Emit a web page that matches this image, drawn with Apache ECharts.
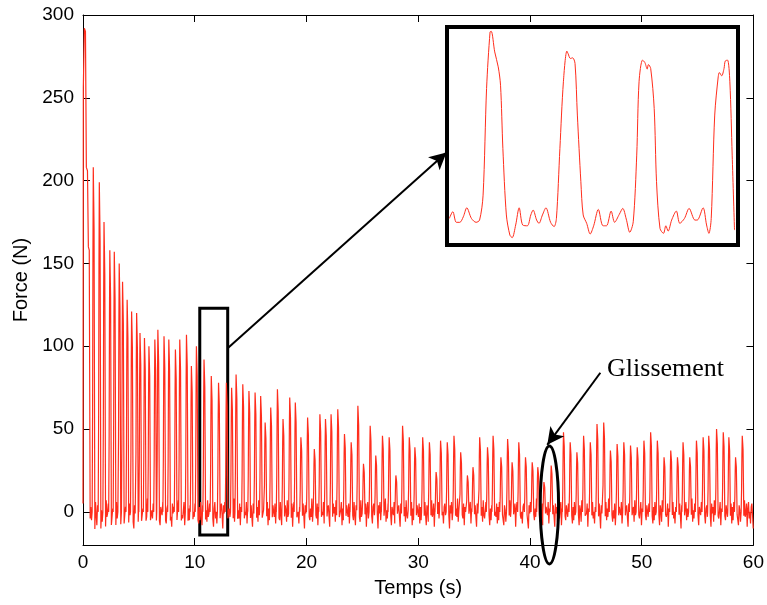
<!DOCTYPE html>
<html>
<head>
<meta charset="utf-8">
<script src="https://cdn.jsdelivr.net/npm/echarts@6/dist/echarts.min.js"></script>
<style>
  html, body { margin: 0; background: #fff; }
  #chart { width: 767px; height: 605px; }
</style>
</head>
<body>
<div id="chart"></div>
<script>
// Force (N) en fonction du temps (s) : train d'impulsions qui décroît, zoom sur 4 cycles
// et repère du glissement vers 41-42 s.

// début de l'enregistrement (premier appui, t en s / F en N)
const HEAD_T = [0, 0.03, 0.12, 0.22, 0.3, 0.4, 0.48, 0.56, 0.64];
const HEAD_F = [5, 256, 292, 290, 208, 206, 160, 158, -4];

// sommets des impulsions
const SPIKE_T = [
  0.92, 1.46, 1.88, 2.4, 2.8, 3.24, 3.54, 3.95, 4.35, 4.8,
  5.1, 5.5, 5.9, 6.43, 6.7, 7.25, 7.68, 8.27, 8.66, 9.26,
  9.7, 10.15, 10.83, 11.48, 12.13, 12.83, 13.3, 13.7, 14.3, 14.85,
  15.4, 15.9, 16.3, 16.8, 17.4, 17.9, 18.5, 19.0, 19.5, 20.1,
  20.7, 21.2, 21.7, 22.2, 22.8, 23.4, 24.0, 24.6, 25.1, 25.7,
  26.2, 26.8, 27.4, 28.0, 28.6, 29.2, 29.7, 30.4, 31.0, 31.6,
  32.0, 32.6, 33.2, 33.8, 34.4, 34.9, 35.5, 36.2, 36.7, 37.4,
  38.0, 38.4, 39.0, 39.6, 40.2, 40.7, 41.25, 41.9, 43.0, 43.6,
  44.2, 44.8, 45.4, 46.0, 46.6, 47.2, 47.8, 48.4, 49.0, 49.6,
  50.2, 50.8, 51.4, 52.0, 52.6, 53.2, 53.7, 54.3, 54.9, 55.5,
  56.0, 56.7, 57.3, 57.8, 58.4, 59.0
];
const SPIKE_F = [
  208, 199, 175, 158, 157, 150, 139, 128, 121, 120,
  108, 105, 100, 104, 110, 106, 104, 98, 104, 107,
  88, 100, 92, 82, 78, 78, 75, 83, 77, 73,
  72, 70, 54, 63, 74, 56, 69, 66, 45, 57,
  38, 59, 56, 59, 62, 47, 42, 64, 29, 52,
  34, 46, 45, 22, 52, 45, 39, 45, 42, 24,
  43, 42, 46, 36, 22, 27, 45, 39, 46, 33,
  44, 30, 42, 33, 30, 27, 18, 28, 48, 42,
  36, 46, 42, 53, 54, 37, 41, 42, 40, 39,
  43, 48, 43, 33, 37, 33, 42, 33, 43, 45,
  46, 50, 48, 45, 33, 46
];

// forme d'une impulsion relevée dans le zoom (décalage en s, fraction du sommet)
const PULSE_DT = [-0.1, -0.06, -0.03, 0, 0.04, 0.07, 0.1, 0.14];
const PULSE_K = [0, 0.3, 0.75, 1, 0.9, 0.82, 0.45, -0.05];

// ondulation de la ligne de base entre deux appuis (N)
const NOISE = [
  3, -5, 6, -2, -8, 4, 1, -6, 7, -3, -1, 5, -9, 2, 6, -4, 0, -7, 3, 5,
  -2, -10, 4, -1, 6, -5, 2, -3, 8, -6, 1, -4, 5, -8, 3, 0, -2, 6, -7, 2,
  4, -3, -9, 5, -1, 3, -6, 7, -2, -4, 1, 6, -8, 2, -5, 4, 0, -3, 5, -7
];

// courbe du zoom (encadré, 10.45 s - 12.95 s)
const INSET_T = [
  10.47, 10.50, 10.53, 10.56, 10.59, 10.62, 10.66, 10.70, 10.73, 10.76,
  10.79, 10.82, 10.83, 10.86, 10.89, 10.91, 10.93, 10.96, 10.99, 11.01,
  11.04, 11.07, 11.10, 11.14, 11.17, 11.19, 11.22, 11.24, 11.27, 11.30,
  11.34, 11.37, 11.39, 11.42, 11.45, 11.48, 11.49, 11.51, 11.53, 11.55,
  11.57, 11.60, 11.62, 11.65, 11.68, 11.71, 11.75, 11.79, 11.82, 11.86,
  11.89, 11.93, 11.96, 11.99, 12.02, 12.05, 12.08, 12.10, 12.13, 12.15,
  12.17, 12.18, 12.20, 12.23, 12.25, 12.28, 12.31, 12.33, 12.35, 12.38,
  12.42, 12.45, 12.49, 12.53, 12.58, 12.60, 12.65, 12.68, 12.70, 12.72,
  12.75, 12.78, 12.79, 12.81, 12.83, 12.84, 12.86, 12.88, 12.90, 12.92
];
const INSET_F = [
  0.3, 3.6, -1.6, -1.6, 1.1, 5.5, 0.3, -1.6, -0.5, 11.7,
  63.9, 91.6, 91.9, 81.8, 74.5, 65.5, 34.6, 2.0, -7.8, -9.1,
  -2.9, 5.5, -2.9, -3.3, 2.0, 4.4, -0.5, -2.1, 2.0, 5.5,
  -1.6, -3.7, 0.3, 34.6, 67.2, 82.2, 81.0, 78.6, 78.9, 76.1,
  50.9, 18.3, 2.0, -2.1, -7.3, -3.3, 4.7, -3.3, -3.3, 3.9,
  -1.6, 2.3, 5.2, 0, -6.5, -1.3, 31.3, 67.2, 77.8, 76.6,
  73.4, 75.6, 73.7, 54.1, 18.3, -4.6, -7.0, -3.3, -5.9, -0.5,
  3.9, -2.1, 0.3, 5.2, -0.5, -0.5, 5.5, -2.9, -7.0, 0.3,
  50.9, 69.6, 71.7, 70.1, 73.7, 77.3, 77.8, 67.2, 31.3, -5.4
];

const X_TICKS = [0, 10, 20, 30, 40, 50, 60];
const Y_TICKS = [0, 50, 100, 150, 200, 250, 300];

// annotations (coordonnées données)
const ZOOM_BOX = [[10.45, 123], [12.95, -14]];
const ZOOM_ARROW = [[12.97, 99], [32.53, 217]];
const SLIP_ARROW = [[46.3, 84], [41.55, 40.5]];
const SLIP_LABEL = [46.9, 86.3];
const SLIP_ELLIPSE = { t: 41.74, f: 4.2, dt: 0.82, df: 35.6 };

const RED = '#ff2d1c';

// trace principale
const main = HEAD_T.map((t, i) => [t, HEAD_F[i]]);
let last = HEAD_T[HEAD_T.length - 1];
let k = 0;
function fillBase(to) {
  for (let t = last + 0.06; t < to; t += 0.06) {
    main.push([+t.toFixed(3), NOISE[k++ % NOISE.length]]);
  }
}
SPIKE_T.forEach((tp, i) => {
  fillBase(tp + PULSE_DT[0]);
  PULSE_DT.forEach((d, j) => main.push([+(tp + d).toFixed(3), +(PULSE_K[j] * SPIKE_F[i]).toFixed(1)]));
  last = tp + PULSE_DT[PULSE_DT.length - 1];
});
fillBase(60);

const chart = echarts.init(document.getElementById('chart'), null, { renderer: 'canvas' });

const labelFont = { color: '#000', fontSize: 19, fontFamily: '"Liberation Sans", Arial, sans-serif' };
const inTick = { show: true, inside: true, length: 7, lineStyle: { color: '#000', width: 1 } };
const blackLine = { show: true, onZero: false, lineStyle: { color: '#000', width: 1 } };

chart.setOption({
  animation: false,
  backgroundColor: '#fff',
  grid: [
    { left: 83, right: 12, top: 15, bottom: 60 },
    { left: 447, top: 27, width: 291, height: 218, show: true,
      backgroundColor: '#fff', borderColor: '#000', borderWidth: 4 },
  ],
  xAxis: [
    { type: 'value', gridIndex: 0, min: 0, max: 60, interval: 10, position: 'bottom',
      name: 'Temps (s)', nameLocation: 'middle', nameGap: 33,
      nameTextStyle: { ...labelFont, fontSize: 20 },
      axisLine: blackLine, axisTick: inTick, splitLine: { show: false },
      axisLabel: { ...labelFont, margin: 8 } },
    { type: 'value', gridIndex: 0, min: 0, max: 60, interval: 10, position: 'top',
      axisLine: blackLine, axisTick: inTick, axisLabel: { show: false }, splitLine: { show: false } },
    { type: 'value', gridIndex: 1, min: 10.45, max: 12.95, show: false },
  ],
  yAxis: [
    { type: 'value', gridIndex: 0, min: -20, max: 300, position: 'left',
      name: 'Force (N)', nameLocation: 'middle', nameGap: 52,
      nameTextStyle: { ...labelFont, fontSize: 20 },
      axisLine: blackLine, axisTick: { ...inTick, customValues: Y_TICKS },
      axisLabel: { ...labelFont, margin: 9, customValues: Y_TICKS },
      splitLine: { show: false } },
    { type: 'value', gridIndex: 0, min: -20, max: 300, position: 'right',
      axisLine: blackLine, axisTick: { ...inTick, customValues: Y_TICKS },
      axisLabel: { show: false }, splitLine: { show: false } },
    { type: 'value', gridIndex: 1, min: -12.7, max: 94, show: false },
  ],
  series: [
    {
      type: 'line', xAxisIndex: 0, yAxisIndex: 0,
      data: main, showSymbol: false, sampling: null, silent: true,
      lineStyle: { color: RED, width: 1.2 },
      markArea: {
        silent: true,
        itemStyle: { color: 'rgba(0,0,0,0)', borderColor: '#000', borderWidth: 3 },
        data: [[{ coord: ZOOM_BOX[0] }, { coord: ZOOM_BOX[1] }]],
      },
      markLine: {
        silent: true,
        symbol: ['none', 'arrow'],
        symbolSize: [13, 17],
        label: { show: false },
        lineStyle: { color: '#000', width: 2, type: 'solid' },
        data: [
          [{ coord: ZOOM_ARROW[0] }, { coord: ZOOM_ARROW[1] }],
          [{ coord: SLIP_ARROW[0] }, { coord: SLIP_ARROW[1] }],
        ],
      },
    },
    {
      type: 'line', xAxisIndex: 2, yAxisIndex: 2,
      data: INSET_T.map((t, i) => [t, INSET_F[i]]),
      showSymbol: false, silent: true, smooth: 0.3,
      lineStyle: { color: RED, width: 1 },
    },
  ],
});

// ellipse et étiquette « Glissement » placées depuis les coordonnées données
const px = v => chart.convertToPixel({ seriesIndex: 0 }, v);
const [cx, cy] = px([SLIP_ELLIPSE.t, SLIP_ELLIPSE.f]);
const [ex, ey] = px([SLIP_ELLIPSE.t + SLIP_ELLIPSE.dt, SLIP_ELLIPSE.f + SLIP_ELLIPSE.df]);
const [lx, ly] = px(SLIP_LABEL);
chart.setOption({
  graphic: [
    { type: 'ellipse', silent: true, z: 10,
      shape: { cx, cy, rx: Math.abs(ex - cx), ry: Math.abs(cy - ey) },
      style: { fill: 'none', stroke: '#000', lineWidth: 3 } },
    { type: 'text', silent: true, z: 10, x: lx, y: ly,
      style: { text: 'Glissement', fill: '#000', align: 'left', verticalAlign: 'middle',
               font: '26px "Liberation Serif", "Times New Roman", serif' } },
  ],
});
</script>
</body>
</html>
